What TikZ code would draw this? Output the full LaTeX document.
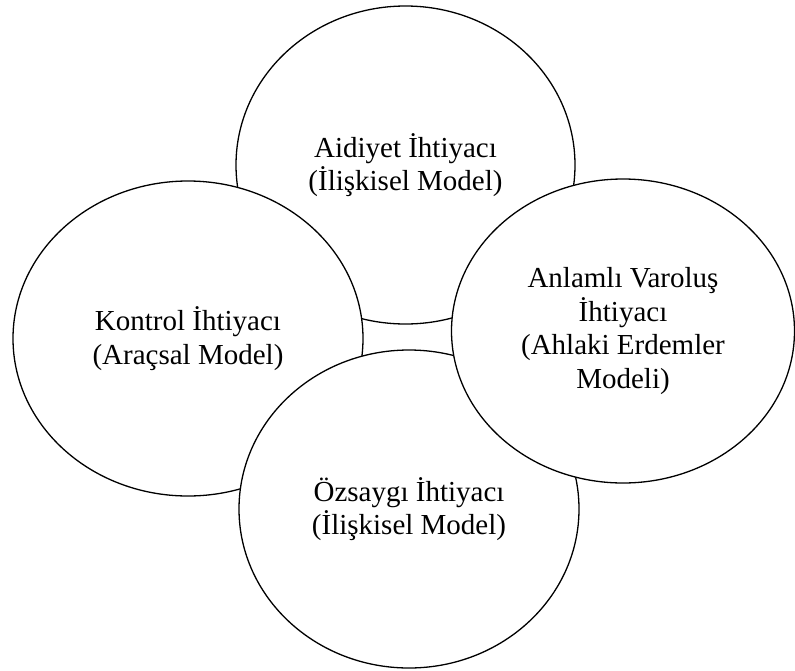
\documentclass[tikz,border=0pt]{standalone}
\usepackage{fontspec}
\setmainfont{Liberation Serif}
\usetikzlibrary{shapes.geometric}

\tikzset{
    bubble/.style={ellipse, draw=black, fill=white, line width=1.3pt,
        inner sep=0pt, align=center,
        font=\fontsize{29}{33.5}\selectfont}
}

\begin{document}
\begin{tikzpicture}[x=1pt, y=-1pt]
    \useasboundingbox (0, 0) rectangle (795, 670);

    % The four needs, drawn back to front
    \node[bubble, minimum width=339, minimum height=318] (aidiyet) at (405.5, 165)
        {Aidiyet İhtiyacı\\(İlişkisel Model)};
    \node[bubble, minimum width=350, minimum height=315] (kontrol) at (188, 338.5)
        {Kontrol İhtiyacı\\(Araçsal Model)};
    \node[bubble, minimum width=340, minimum height=318] (ozsaygi) at (409, 509)
        {Özsaygı İhtiyacı\\(İlişkisel Model)};
    \node[bubble, minimum width=343, minimum height=304] (anlam) at (623, 331)
        {Anlamlı Varoluş\\İhtiyacı\\(Ahlaki Erdemler\\Modeli)};
\end{tikzpicture}
\end{document}
